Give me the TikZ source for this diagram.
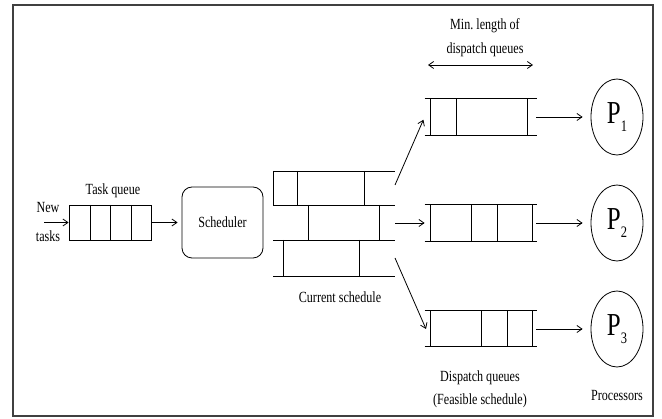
\documentclass[tikz,border=0pt]{standalone}
\usepackage{fontspec}
\setmainfont{Liberation Serif}
\newfontfamily\condfont[FakeStretch=0.78]{Liberation Serif}
\usetikzlibrary{arrows.meta,shapes.geometric}
\begin{document}
\begin{tikzpicture}[x=1pt,y=-1pt,
  line width=0.8pt,
  lbl/.style={font=\condfont\fontsize{15.5}{16}\selectfont, inner sep=0pt, align=center},
  arr/.style={-{Straight Barb[length=5pt,width=7pt]}},
  dbl/.style={{Straight Barb[length=5pt,width=7pt]}-{Straight Barb[length=5pt,width=7pt]}},
  qbox/.style={draw, minimum width=82pt, minimum height=35pt, inner sep=0pt},
  dqbox/.style={minimum width=112pt, minimum height=36pt, inner sep=0pt},
  sched/.style={draw, rounded corners=10pt, minimum width=81pt, minimum height=71pt, align=center, font=\condfont\fontsize{15.5}{16}\selectfont},
  proc/.style={draw, ellipse, minimum width=52pt, minimum height=76pt, inner sep=0pt},
]
\useasboundingbox (0,0) rectangle (662,419);
% outer frame
\draw[line width=1.1pt, black!75] (13,5) rectangle (653,416);

% task queue
\node[qbox] (tq) at (110,222.5) {};
\foreach \x in {90,110,131} \draw (\x,205) -- (\x,240);
\node[lbl] (tql) at (113,191) {Task queue};
\node[lbl] (nt1) at (48,208) {New};
\node[lbl] (nt2) at (48,236) {tasks};
\coordinate (ntin) at (44,222.5);
\draw[arr] (ntin) -- (tq.west);

% scheduler
\node[sched] (sch) at (222.5,222.5) {Scheduler};
\draw[arr, shorten >=4pt] (tq.east) -- (sch.west);

% current schedule
\node[minimum width=122pt, minimum height=105pt, inner sep=0pt] (cs) at (334,223.5) {};
\foreach \y in {171,205,240,276} \draw (273,\y) -- (395,\y);
\foreach \x in {273,297,364} \draw (\x,171) -- (\x,205);
\foreach \x in {308,379} \draw (\x,205) -- (\x,240);
\foreach \x in {283,359} \draw (\x,240) -- (\x,276);
\node[lbl] (csl) at (340,297) {Current schedule};

% dispatch queues
\node[dqbox] (dq1) at (481,117) {};
\node[dqbox] (dq2) at (481,223) {};
\node[dqbox] (dq3) at (481,328.5) {};
\foreach \q in {dq1,dq2,dq3} {
  \draw (\q.north west) -- (\q.north east);
  \draw (\q.south west) -- (\q.south east);
}
\foreach \x in {430,456,527} \draw (\x,99) -- (\x,135);
\foreach \x in {430,471,497,532} \draw (\x,205) -- (\x,241);
\foreach \x in {430,481,507,532} \draw (\x,310.5) -- (\x,346.5);

% schedule to dispatch queues
\coordinate (cs1) at (395,185);
\coordinate (cs2) at (395,223);
\coordinate (cs3) at (395,258);
\draw[arr, shorten >=3pt] (cs1) -- (dq1.west);
\draw[arr] (cs2) -- (dq2.west);
\draw[arr] (cs3) -- (426,329);

% queue length annotation
\node[lbl] (ml1) at (485,26) {Min.\ length of};
\node[lbl] (ml2) at (485,50) {dispatch queues};
\coordinate (mla) at (428,65);
\coordinate (mlb) at (533,65);
\draw[dbl] (mla) -- (mlb);
\node[lbl] (dql1) at (480,378) {Dispatch queues};
\node[lbl] (dql2) at (480,401) {(Feasible schedule)};

% processors
\newcommand{\procname}[1]{{\condfont\fontsize{32}{32}\selectfont P}\raisebox{-8pt}{\condfont\fontsize{16}{16}\selectfont #1}}
\node[proc] (p1) at (617,117) {\procname{1}};
\node[proc] (p2) at (617,223) {\procname{2}};
\node[proc] (p3) at (617,329) {\procname{3}};
\node[lbl] (pl) at (617,396) {Processors};
\draw[arr, shorten <=-1pt, shorten >=8pt] (dq1.east) -- (p1.west);
\draw[arr, shorten <=-1pt, shorten >=8pt] (dq2.east) -- (p2.west);
\draw[arr, shorten <=-1pt, shorten >=8pt] (dq3.east |- p3.west) -- (p3.west);
\end{tikzpicture}
\end{document}
